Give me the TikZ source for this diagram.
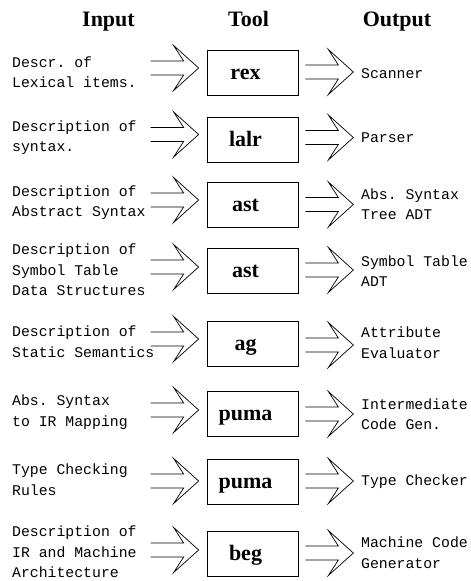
\documentclass[tikz,border=0pt]{standalone}
\usepackage{fontspec}
\setmainfont{Liberation Serif}
\setmonofont{Liberation Mono}

\begin{document}
\begin{tikzpicture}[x=1pt,y=-1pt]

    \tikzset{
      box/.style={
        draw,
        line width=0.7pt,
        minimum width=91pt,
        minimum height=45pt,
        inner sep=0pt,
      },
      head/.style={font=\fontsize{22}{24}\selectfont\bfseries, inner sep=0pt, anchor=base},
      tool/.style={font=\fontsize{22}{24}\selectfont\bfseries, inner sep=0pt, anchor=base},
      desc/.style={font=\fontsize{14.8}{20.5}\selectfont\ttfamily, align=left, inner sep=0pt, anchor=west},
      hollow/.pic={
        \draw[line width=0.7pt] (-48,7)--(-15,7)--(-25,22.5)--(0,0)--(-25,-22.5)--(-15,-7)--(-48,-7);
      },
    }
    \useasboundingbox (0,0) rectangle (471,581);

	\node[head] (hin) at (108.5,26.5) {Input};
	\node[head] (htool) at (248.5,26.5) {Tool};
	\node[head] (hout) at (397,26.5) {Output};

	\node[box] (rex) at (252.5,73) {};
	\node[tool] (rexlbl) at ([xshift=-7pt,yshift=-6.5pt]rex.center) {rex};
	\node[desc] (in1) at (12,72) {Descr. of\\Lexical items.};
	\node[desc] (out1) at (361,74) {Scanner};
	\pic at ([xshift=-8pt,yshift=5pt]rex.west) {hollow};
	\pic at ([xshift=55pt,yshift=1pt]rex.east) {hollow};

	\node[box] (lalr) at (252.5,139.5) {};
	\node[tool] (lalrlbl) at ([xshift=-7pt,yshift=-6.5pt]lalr.center) {lalr};
	\node[desc] (in2) at (12,137.5) {Description of\\syntax.};
	\node[desc] (out2) at (361,138) {Parser};
	\pic at ([xshift=-8pt,yshift=5pt]lalr.west) {hollow};
	\pic at ([xshift=55pt,yshift=2pt]lalr.east) {hollow};

	\node[box] (ast) at (252.5,204.5) {};
	\node[tool] (astlbl) at ([xshift=-7pt,yshift=-6.5pt]ast.center) {ast};
	\node[desc] (in3) at (12,202.5) {Description of\\Abstract Syntax};
	\node[desc] (out3) at (361,204) {Abs. Syntax\\Tree ADT};
	\pic at ([xshift=-8pt,yshift=4.5pt]ast.west) {hollow};
	\pic at ([xshift=55pt]ast.east) {hollow};

	\node[box] (symast) at (252.5,271) {};
	\node[tool] (symastlbl) at ([xshift=-7pt,yshift=-6.5pt]symast.center) {ast};
	\node[desc] (in4) at (12,270) {Description of\\Symbol Table\\Data Structures};
	\node[desc] (out4) at (361,271) {Symbol Table\\ADT};
	\pic at ([xshift=-8pt,yshift=4pt]symast.west) {hollow};
	\pic at ([xshift=55pt,yshift=1pt]symast.east) {hollow};

	\node[box] (ag) at (252.5,343.5) {};
	\node[tool] (aglbl) at ([xshift=-7pt,yshift=-6.5pt]ag.center) {ag};
	\node[desc] (in5) at (12,341.5) {Description of\\Static Semantics};
	\node[desc] (out5) at (361,342.5) {Attribute\\Evaluator};
	\pic at ([xshift=-8pt,yshift=4.5pt]ag.west) {hollow};
	\pic at ([xshift=55pt,yshift=-1.5pt]ag.east) {hollow};

	\node[box] (puma) at (252.5,414) {};
	\node[tool] (pumalbl) at ([xshift=-7pt,yshift=-6.5pt]puma.center) {puma};
	\node[desc] (in6) at (12,412) {Abs. Syntax\\to IR Mapping};
	\node[desc] (out6) at (361,414) {Intermediate\\Code Gen.};
	\pic at ([xshift=-8pt,yshift=4pt]puma.west) {hollow};
	\pic at ([xshift=55pt]puma.east) {hollow};

	\node[box] (tcpuma) at (252.5,481.5) {};
	\node[tool] (tcpumalbl) at ([xshift=-7pt,yshift=-6.5pt]tcpuma.center) {puma};
	\node[desc] (in7) at (12,479.5) {Type Checking\\Rules};
	\node[desc] (out7) at (361,482) {Type Checker};
	\pic at ([xshift=-8pt,yshift=0.5pt]tcpuma.west) {hollow};
	\pic at ([xshift=55pt,yshift=0.5pt]tcpuma.east) {hollow};

	\node[box] (beg) at (252.5,554) {};
	\node[tool] (beglbl) at ([xshift=-7pt,yshift=-6.5pt]beg.center) {beg};
	\node[desc] (in8) at (12,552) {Description of\\IR and Machine\\Architecture};
	\node[desc] (out8) at (361,552.5) {Machine Code\\Generator};
	\pic at ([xshift=-8pt,yshift=4pt]beg.west) {hollow};
	\pic at ([xshift=55pt,yshift=1pt]beg.east) {hollow};

\end{tikzpicture}
\end{document}
